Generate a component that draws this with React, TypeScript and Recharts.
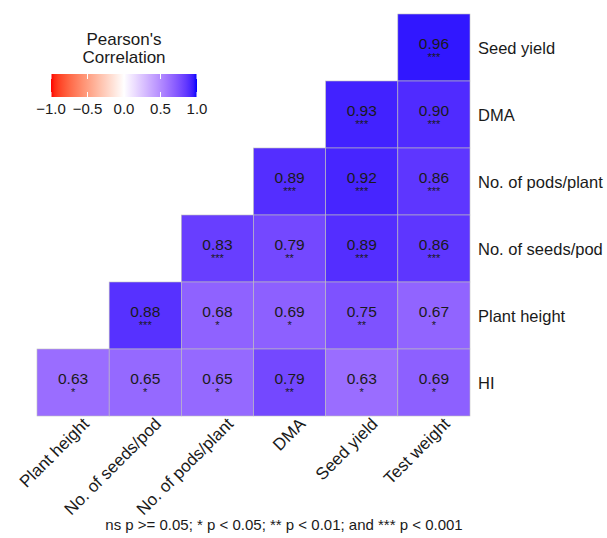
import React from 'react';
import { ScatterChart, Scatter, XAxis, YAxis } from 'recharts';

document.body.style.margin = '0';

const colLabels = ['Plant height', 'No. of seeds/pod', 'No. of pods/plant', 'DMA', 'Seed yield', 'Test weight'];
const rowLabels = ['Seed yield', 'DMA', 'No. of pods/plant', 'No. of seeds/pod', 'Plant height', 'HI'];

// lower triangle, rows top to bottom
const corrRows = [
  [null, null, null, null, null, 0.96],
  [null, null, null, null, 0.93, 0.9],
  [null, null, null, 0.89, 0.92, 0.86],
  [null, null, 0.83, 0.79, 0.89, 0.86],
  [null, 0.88, 0.68, 0.69, 0.75, 0.67],
  [0.63, 0.65, 0.65, 0.79, 0.63, 0.69],
];
const starRows = [
  ['', '', '', '', '', '***'],
  ['', '', '', '', '***', '***'],
  ['', '', '', '***', '***', '***'],
  ['', '', '***', '**', '***', '***'],
  ['', '***', '*', '*', '**', '*'],
  ['*', '*', '*', '**', '*', '*'],
];
const legendTicks = [-1, -0.5, 0, 0.5, 1];
const footNote = 'ns p >= 0.05; * p < 0.05; ** p < 0.01; and *** p < 0.001';

const W = 607;
const H = 538;
const M = { top: 14, left: 37, right: 0, bottom: 0 };
const Y_AXIS_W = 137;
const X_AXIS_H = 122;
const CELL_W = (W - M.left - Y_AXIS_W) / colLabels.length;
const CELL_H = (H - M.top - X_AXIS_H) / rowLabels.length;
const TEXT = '#1a1a1a';

// ggplot-style gradient (Lab interpolation) red - white - blue
const srgbToLin = (c: number) => (c <= 0.04045 ? c / 12.92 : Math.pow((c + 0.055) / 1.055, 2.4));
const linToSrgb = (c: number) => (c <= 0.0031308 ? 12.92 * c : 1.055 * Math.pow(c, 1 / 2.4) - 0.055);
const toLab = (r: number, g: number, b: number) => {
  const R = srgbToLin(r / 255), G = srgbToLin(g / 255), B = srgbToLin(b / 255);
  const X = (0.4124 * R + 0.3576 * G + 0.1805 * B) / 0.95047;
  const Y = 0.2126 * R + 0.7152 * G + 0.0722 * B;
  const Z = (0.0193 * R + 0.1192 * G + 0.9505 * B) / 1.08883;
  const f = (t: number) => (t > 0.008856 ? Math.cbrt(t) : 7.787 * t + 16 / 116);
  return [116 * f(Y) - 16, 500 * (f(X) - f(Y)), 200 * (f(Y) - f(Z))];
};
const fromLab = (L: number, a: number, b: number) => {
  const fy = (L + 16) / 116, fx = fy + a / 500, fz = fy - b / 200;
  const inv = (t: number) => (t ** 3 > 0.008856 ? t ** 3 : (t - 16 / 116) / 7.787);
  const X = 0.95047 * inv(fx), Y = inv(fy), Z = 1.08883 * inv(fz);
  const R = 3.2406 * X - 1.5372 * Y - 0.4986 * Z;
  const G = -0.9689 * X + 1.8758 * Y + 0.0415 * Z;
  const B = 0.0557 * X - 0.204 * Y + 1.057 * Z;
  const c = (v: number) => Math.round(255 * Math.min(1, Math.max(0, linToSrgb(v))));
  return `rgb(${c(R)},${c(G)},${c(B)})`;
};
const WHITE = toLab(255, 255, 255);
const BLUE = toLab(0, 0, 255);
const RED = toLab(255, 0, 0);
const corrColor = (v: number) => {
  const end = v >= 0 ? BLUE : RED;
  const t = Math.min(1, Math.abs(v));
  return fromLab(
    WHITE[0] + (end[0] - WHITE[0]) * t,
    WHITE[1] + (end[1] - WHITE[1]) * t,
    WHITE[2] + (end[2] - WHITE[2]) * t,
  );
};

const cells = corrRows.flatMap((row, r) =>
  row
    .map((v, c) => ({ x: c + 0.5, y: r + 0.5, v, stars: starRows[r][c] }))
    .filter((d) => d.v !== null),
);

const CellShape = (props: any) => {
  const { cx, cy, payload } = props;
  return (
    <g>
      <rect
        x={cx - CELL_W / 2}
        y={cy - CELL_H / 2}
        width={CELL_W}
        height={CELL_H}
        fill={corrColor(payload.v)}
        stroke="#bebebe"
        strokeWidth={0.6}
      />
      <text x={cx} y={cy + 1} textAnchor="middle" fontSize={15.5} fill={TEXT}>
        {payload.v.toFixed(2)}
      </text>
      <text x={cx} y={cy + 13} textAnchor="middle" fontSize={11} fill={TEXT}>
        {payload.stars}
      </text>
    </g>
  );
};

const XTick = (props: any) => {
  const { x, y, payload } = props;
  return (
    <text
      transform={`translate(${x + 17},${y + 1}) rotate(-45)`}
      textAnchor="end"
      fontSize={17}
      fill={TEXT}
    >
      {colLabels[Math.floor(payload.value)]}
    </text>
  );
};

const YTick = (props: any) => {
  const { x, y, payload } = props;
  return (
    <text x={x} y={y} dy={6} textAnchor="start" fontSize={16.5} fill={TEXT}>
      {rowLabels[Math.floor(payload.value)]}
    </text>
  );
};

const Legend = () => {
  const x0 = 51;
  const x1 = 197;
  const pos = (v: number) => x0 + ((v + 1) / 2) * (x1 - x0);
  const stops = Array.from({ length: 41 }, (_, i) => -1 + i * 0.05);
  return (
    <svg width={240} height={130} style={{ position: 'absolute', left: 0, top: 0 }}>
      <defs>
        <linearGradient id="corrGrad" x1="0" y1="0" x2="1" y2="0">
          {stops.map((s) => (
            <stop key={s} offset={`${((s + 1) / 2) * 100}%`} stopColor={corrColor(s)} />
          ))}
        </linearGradient>
      </defs>
      <text x={124} y={45} textAnchor="middle" fontSize={17} fill={TEXT}>Pearson's</text>
      <text x={124} y={63} textAnchor="middle" fontSize={17} fill={TEXT}>Correlation</text>
      <rect x={x0} y={74} width={x1 - x0} height={23} fill="url(#corrGrad)" />
      {legendTicks.map((t) => (
        <g key={t}>
          <line x1={pos(t)} x2={pos(t)} y1={74} y2={79} stroke="#fff" strokeWidth={1} />
          <line x1={pos(t)} x2={pos(t)} y1={92} y2={97} stroke="#fff" strokeWidth={1} />
          <text x={pos(t)} y={114} textAnchor="middle" fontSize={15} fill={TEXT}>
            {t.toFixed(1).replace('-', '\u2212')}
          </text>
        </g>
      ))}
    </svg>
  );
};

export default function App() {
  return (
    <div style={{ position: 'relative', width: W, height: H, fontFamily: 'Arial, "Liberation Sans", sans-serif', background: '#fff' }}>
      <ScatterChart width={W} height={H} margin={M}>
        <XAxis
          type="number"
          dataKey="x"
          domain={[0, colLabels.length]}
          ticks={colLabels.map((_, i) => i + 0.5)}
          axisLine={false}
          tickLine={false}
          height={X_AXIS_H}
          tick={<XTick />}
          interval={0}
        />
        <YAxis
          type="number"
          dataKey="y"
          orientation="right"
          reversed
          domain={[0, rowLabels.length]}
          ticks={rowLabels.map((_, i) => i + 0.5)}
          axisLine={false}
          tickLine={false}
          width={Y_AXIS_W}
          tick={<YTick />}
          interval={0}
        />
        <Scatter data={cells} shape={<CellShape />} isAnimationActive={false} />
      </ScatterChart>
      <Legend />
      <div style={{ position: 'absolute', left: 0, width: 568, top: 516, textAlign: 'center', fontSize: 15, lineHeight: '17px', color: TEXT }}>
        {footNote}
      </div>
    </div>
  );
}
